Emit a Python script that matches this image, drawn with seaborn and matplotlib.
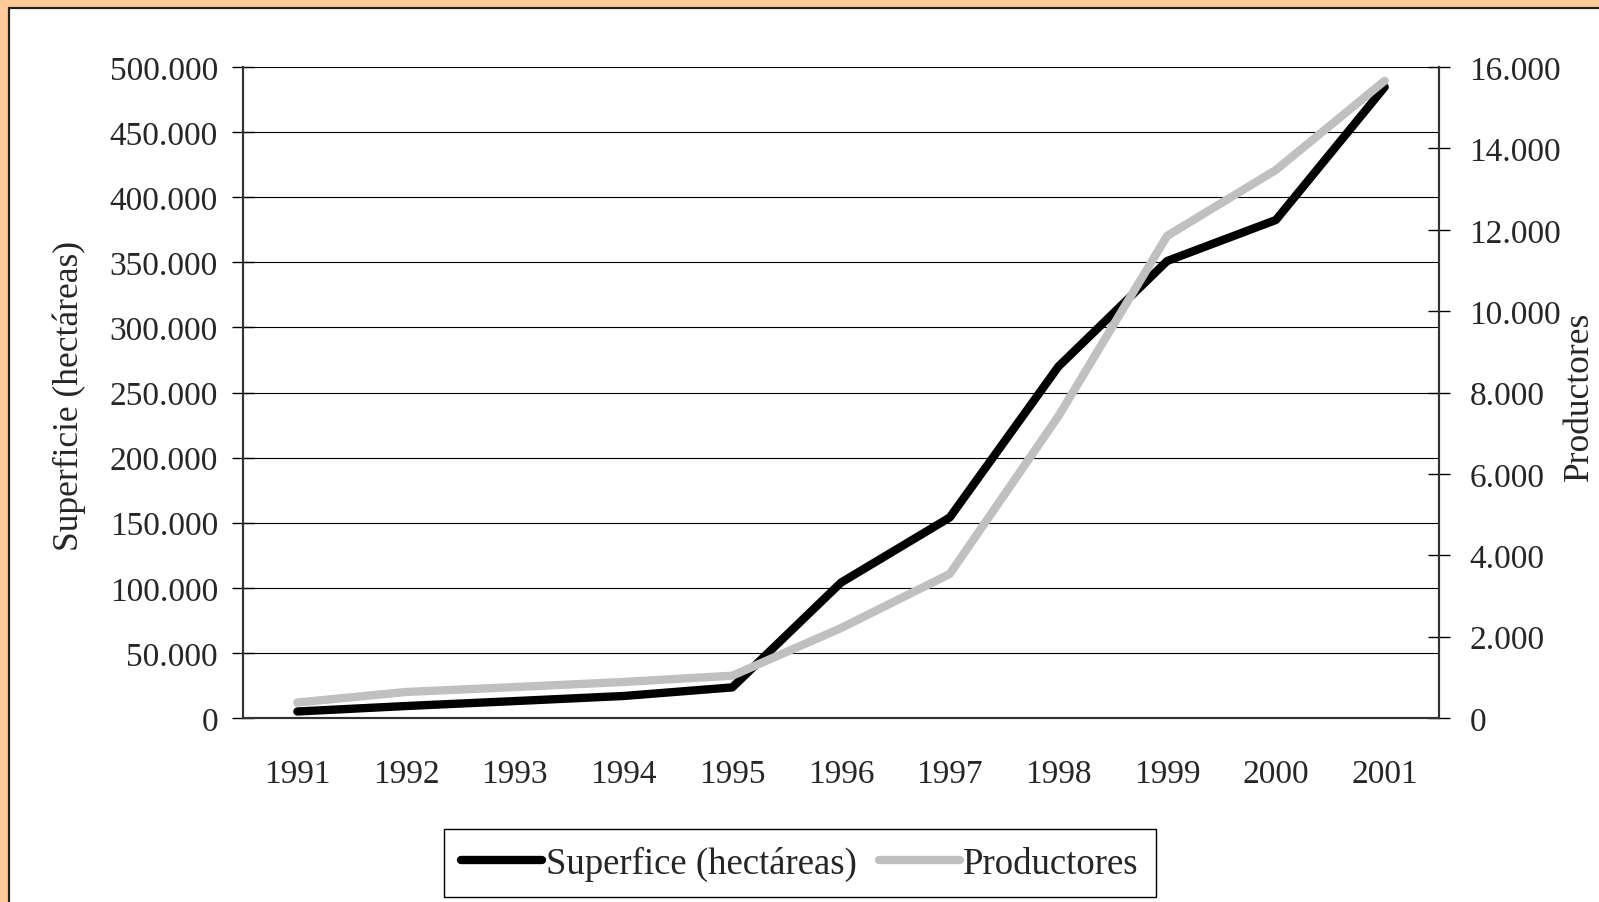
import matplotlib.pyplot as plt
import seaborn as sns
from matplotlib.patches import Rectangle
from matplotlib.ticker import FuncFormatter, MultipleLocator

# Data
years = ['1991', '1992', '1993', '1994', '1995', '1996', '1997', '1998', '1999', '2000', '2001']
superficie = [5000, 9200, 13000, 16900, 23500, 104000, 154000, 270000, 351000, 382500, 484600]
productores = [380, 640, 760, 885, 1040, 2210, 3540, 7420, 11850, 13470, 15660]
pos = list(range(len(years)))

sns.set_style("white")
plt.rcParams['font.family'] = ['Liberation Serif', 'DejaVu Serif']


def miles(v, _):
    return f"{v:,.0f}".replace(',', '.')


W, H = 1599, 903
fig = plt.figure(figsize=(W / 100, H / 100), dpi=100, facecolor='#FFCC99')
# white panel with dark border (peach strip shows on top and left)
fig.patches.append(Rectangle((9 / W, -0.1), 1.2, (H - 9) / H + 0.1, transform=fig.transFigure,
                             facecolor='white', edgecolor='#222222', lw=1.6, zorder=-1))

ax = fig.add_axes([243 / W, 1 - 719 / H, (1439 - 243) / W, (719 - 68) / H])
ax2 = ax.twinx()

sns.lineplot(x=pos, y=superficie, ax=ax, color='black', linewidth=6,
             solid_capstyle='round', label='Superfice (hectáreas)', legend=False)
sns.lineplot(x=pos, y=productores, ax=ax2, color='#C0C0C0', linewidth=6,
             solid_capstyle='round', label='Productores', legend=False)

# axes limits / ticks
ax.set_xlim(-0.5, len(years) - 0.5)
ax.set_ylim(0, 500000)
ax2.set_ylim(0, 16000)
ax.yaxis.set_major_locator(MultipleLocator(50000))
ax2.yaxis.set_major_locator(MultipleLocator(2000))
ax.yaxis.set_major_formatter(FuncFormatter(miles))
ax2.yaxis.set_major_formatter(FuncFormatter(miles))

ax.set_xticks(pos)
ax.set_xticklabels(years)
ax.set_xticks([p - 0.5 for p in pos] + [len(years) - 0.5], minor=True)
ax.tick_params(axis='x', which='major', length=0, pad=29, labelsize=24)
ax.tick_params(axis='x', which='minor', direction='inout', length=16, width=1, color='black')
ax.tick_params(axis='y', direction='inout', length=16, width=1, color='black', pad=10, labelsize=24,
               left=True)
ax2.tick_params(axis='y', direction='inout', length=16, width=1, color='black', pad=14, labelsize=24,
                right=True)

ax.grid(axis='y', color='black', linewidth=0.8)
ax.grid(axis='x', visible=False)
ax2.grid(False)

for a in (ax, ax2):
    a.spines['top'].set_visible(False)
    for s in ('left', 'right', 'bottom'):
        a.spines[s].set_color('#333333')
        a.spines[s].set_linewidth(1.5)
ax.set_facecolor('none')

ax.set_xlabel('')
ax.set_ylabel('')
ax2.set_ylabel('')
fig.text(69 / W, 1 - 396 / H, 'Superficie (hectáreas)', rotation=90, ha='center', va='center',
         fontsize=25.5)
fig.text(1579 / W, 1 - 396 / H, 'Productores', rotation=90, ha='center', va='center',
         fontsize=25.5)

h1, l1 = ax.get_legend_handles_labels()
h2, l2 = ax2.get_legend_handles_labels()
leg = fig.legend(h1 + h2, l1 + l2, loc='center', bbox_to_anchor=(800 / W, 1 - 864 / H), ncol=2,
                 fontsize=26.5, frameon=True, fancybox=False, edgecolor='black', framealpha=1,
                 handlelength=2.2, handletextpad=0.1, columnspacing=0.6, borderpad=0.45,
                 borderaxespad=0)
leg.get_frame().set_linewidth(1)

fig.savefig('out.png', dpi=100, facecolor=fig.get_facecolor())
